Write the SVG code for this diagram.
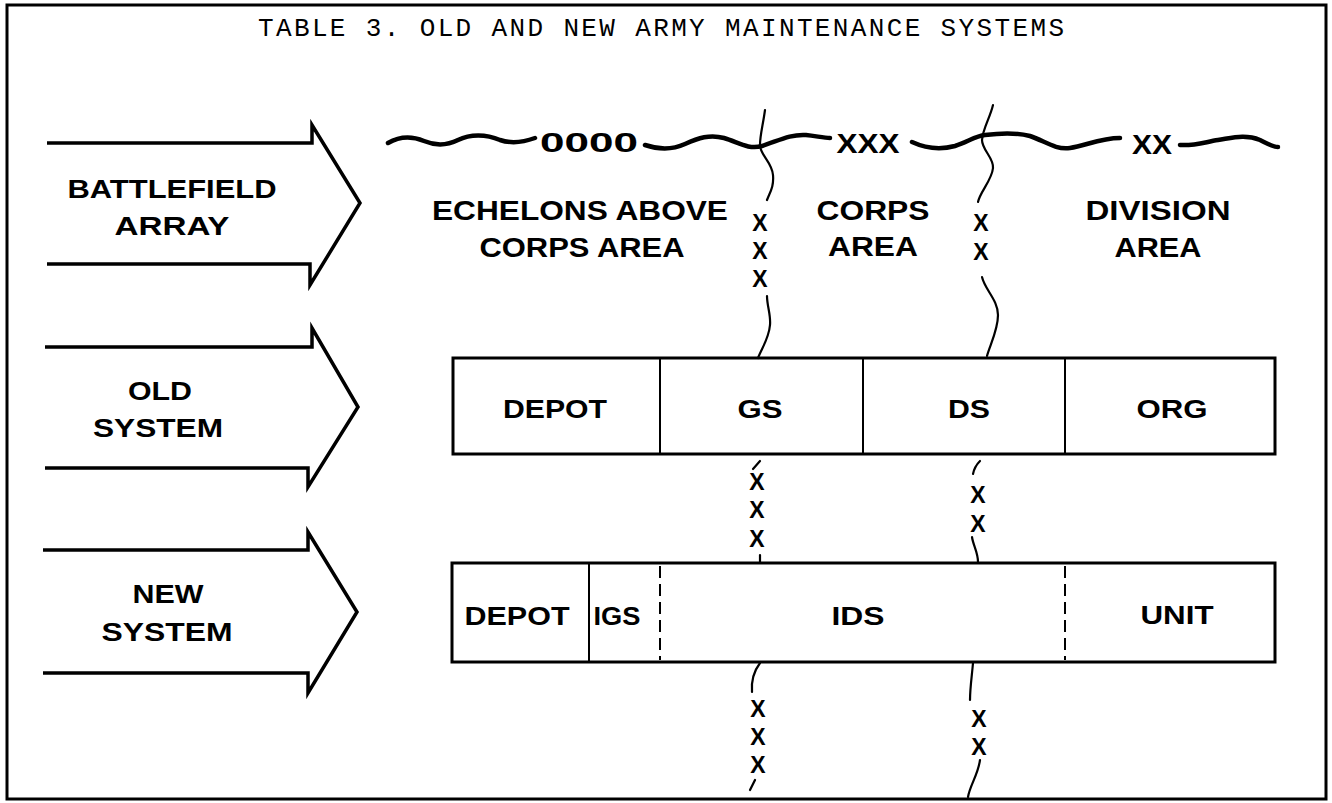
<svg xmlns="http://www.w3.org/2000/svg" width="1332" height="803" viewBox="0 0 1332 803">
<style>
.frame{fill:none;stroke:#000;stroke-width:3}
.arrow{fill:none;stroke:#000;stroke-width:3.5;stroke-linejoin:miter}
.box{fill:#fff;stroke:#000;stroke-width:3}
.div{stroke:#000;stroke-width:2}
.dash{stroke:#000;stroke-width:2;stroke-dasharray:12 6}
.wave{fill:none;stroke:#000;stroke-width:4.5;stroke-linecap:round}
.vline{fill:none;stroke:#000;stroke-width:2.2;stroke-linecap:round}
.t{font-family:"Liberation Sans",Arial,sans-serif;font-weight:bold;fill:#000;text-anchor:middle}
.lbl{font-size:25px}
.area{font-size:27px}
.bx{font-size:25px}
.x{font-size:23px}
.title{font-family:"Liberation Mono","Courier New",monospace;font-size:26px;fill:#000}
</style>
<rect class="frame" x="7" y="5" width="1319" height="794"/>
<text class="title" x="258" y="36" textLength="806" lengthAdjust="spacing">TABLE 3.  OLD AND NEW ARMY MAINTENANCE SYSTEMS</text>

<g id="arrow-battlefield">
<path class="arrow" d="M47,143 L312,143 L312,125 L360,203 L310,285 L310,264 L47,264"/>
<text class="t lbl" x="172" y="198" textLength="209" lengthAdjust="spacingAndGlyphs">BATTLEFIELD</text>
<text class="t lbl" x="172" y="235" textLength="115" lengthAdjust="spacingAndGlyphs">ARRAY</text>
</g>
<g id="arrow-old">
<path class="arrow" d="M45,347 L312,347 L312,328 L358,407 L308,487 L308,468 L45,468"/>
<text class="t lbl" x="160" y="400" textLength="64" lengthAdjust="spacingAndGlyphs">OLD</text>
<text class="t lbl" x="158" y="437" textLength="130" lengthAdjust="spacingAndGlyphs">SYSTEM</text>
</g>
<g id="arrow-new">
<path class="arrow" d="M43,550 L308,550 L308,532 L357,612 L308,693 L308,673 L43,673"/>
<text class="t lbl" x="168" y="603" textLength="71" lengthAdjust="spacingAndGlyphs">NEW</text>
<text class="t lbl" x="167" y="641" textLength="131" lengthAdjust="spacingAndGlyphs">SYSTEM</text>
</g>

<g id="areas">
<text class="t area" x="589" y="152" textLength="98" lengthAdjust="spacingAndGlyphs">0000</text>
<text class="t area" x="868" y="153" textLength="63" lengthAdjust="spacingAndGlyphs">XXX</text>
<text class="t area" x="1152" y="154" textLength="40" lengthAdjust="spacingAndGlyphs">XX</text>
<text class="t area" x="580" y="220" textLength="296" lengthAdjust="spacingAndGlyphs">ECHELONS ABOVE</text>
<text class="t area" x="582" y="257" textLength="205" lengthAdjust="spacingAndGlyphs">CORPS AREA</text>
<text class="t area" x="873" y="220" textLength="113" lengthAdjust="spacingAndGlyphs">CORPS</text>
<text class="t area" x="873" y="256" textLength="90" lengthAdjust="spacingAndGlyphs">AREA</text>
<text class="t area" x="1158" y="220" textLength="145" lengthAdjust="spacingAndGlyphs">DIVISION</text>
<text class="t area" x="1158" y="257" textLength="87" lengthAdjust="spacingAndGlyphs">AREA</text>
</g>

<g id="old-system">
<rect class="box" x="453" y="358" width="822" height="96"/>
<line class="div" x1="660" y1="358" x2="660" y2="454"/>
<line class="div" x1="863" y1="358" x2="863" y2="454"/>
<line class="div" x1="1065" y1="358" x2="1065" y2="454"/>
<text class="t bx" x="555" y="418" textLength="104" lengthAdjust="spacingAndGlyphs">DEPOT</text>
<text class="t bx" x="760" y="418" textLength="45" lengthAdjust="spacingAndGlyphs">GS</text>
<text class="t bx" x="969" y="418" textLength="42" lengthAdjust="spacingAndGlyphs">DS</text>
<text class="t bx" x="1172" y="418" textLength="71" lengthAdjust="spacingAndGlyphs">ORG</text>
</g>

<g id="new-system">
<rect class="box" x="452" y="563" width="823" height="99"/>
<line class="div" x1="589" y1="563" x2="589" y2="662"/>
<line class="dash" x1="660" y1="566" x2="660" y2="660"/>
<line class="dash" x1="1065" y1="566" x2="1065" y2="660"/>
<text class="t bx" x="517" y="625" textLength="105" lengthAdjust="spacingAndGlyphs">DEPOT</text>
<text class="t bx" x="617" y="625" textLength="47" lengthAdjust="spacingAndGlyphs">IGS</text>
<text class="t bx" x="858" y="625" textLength="53" lengthAdjust="spacingAndGlyphs">IDS</text>
<text class="t bx" x="1177" y="624" textLength="73" lengthAdjust="spacingAndGlyphs">UNIT</text>
</g>

<g id="connectors">
<path class="wave" d="M388,143 C400,136 412,136 424,141 C436,146 446,146 458,140 C470,134 486,134 500,140 C512,144 524,142 535,138"/>
<path class="wave" d="M645,145 C660,150 672,150 685,144 C698,138 710,134 724,138 C738,142 748,150 762,146 C778,141 790,134 806,135 C816,136 824,138 830,138"/>
<path class="wave" d="M912,142 C925,148 940,150 955,146 C968,142 975,136 985,135 C1000,133 1015,132 1030,136 C1045,141 1055,150 1070,148 C1085,146 1100,138 1120,138"/>
<path class="wave" d="M1180,145 C1195,146 1205,142 1218,140 C1232,138 1245,134 1260,140 C1268,144 1273,147 1278,147"/>

<path class="vline" d="M765,110 C763,125 760,135 760,145 C760,155 772,162 773,175 C774,187 770,192 767,200"/>
<path class="vline" d="M767,296 C767,306 771,315 770,325 C769,338 762,348 758,358"/>
<path class="vline" d="M993,105 C990,118 983,128 982,140 C982,150 994,158 993,168 C992,180 980,192 978,202"/>
<path class="vline" d="M982,277 C985,290 998,300 998,315 C998,330 990,345 987,356"/>
<text class="t x" x="760" y="231">X</text>
<text class="t x" x="760" y="259">X</text>
<text class="t x" x="760" y="287">X</text>
<text class="t x" x="981" y="231">X</text>
<text class="t x" x="981" y="260">X</text>

<path class="vline" d="M760,461 L753,469"/>
<path class="vline" d="M760,555 L760,563"/>
<text class="t x" x="757" y="490">X</text>
<text class="t x" x="757" y="518">X</text>
<text class="t x" x="757" y="547">X</text>
<path class="vline" d="M980,461 C976,465 974,469 973,474"/>
<path class="vline" d="M972,537 C973,545 978,552 978,562"/>
<text class="t x" x="978" y="503">X</text>
<text class="t x" x="978" y="532">X</text>

<path class="vline" d="M760,663 C754,671 751,680 752,692"/>
<path class="vline" d="M755,780 L750,790"/>
<text class="t x" x="758" y="717">X</text>
<text class="t x" x="758" y="745">X</text>
<text class="t x" x="758" y="773">X</text>
<path class="vline" d="M973,663 C972,675 970,688 970,700"/>
<path class="vline" d="M980,760 C978,775 970,785 968,797"/>
<text class="t x" x="979" y="727">X</text>
<text class="t x" x="979" y="755">X</text>
</g>
</svg>
